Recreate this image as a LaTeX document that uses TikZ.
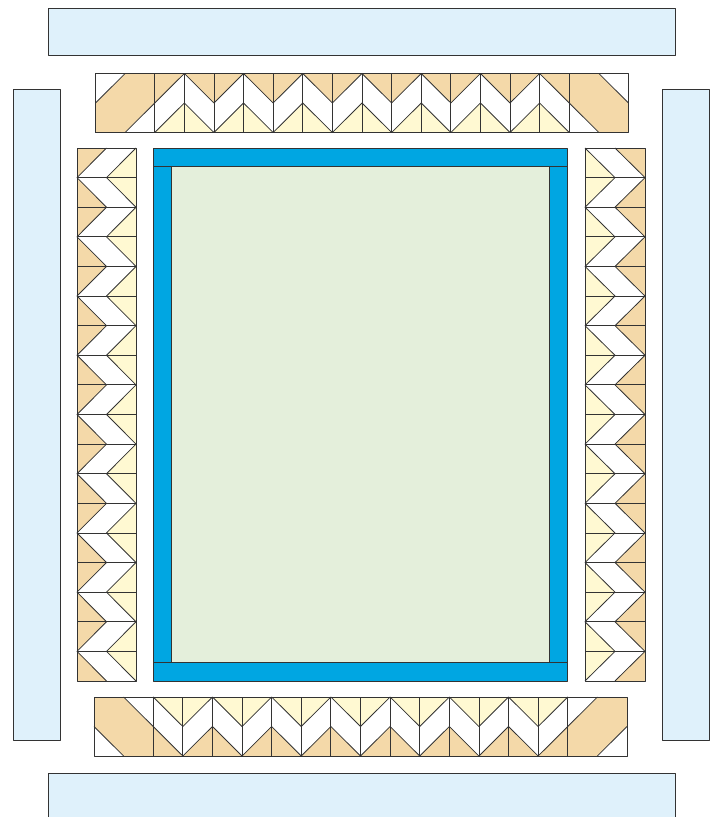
\documentclass[tikz,border=0pt]{standalone}
\usepackage{tikz}
\definecolor{lblue}{HTML}{DFF1FB}
\definecolor{tanc}{HTML}{F4D9A9}
\definecolor{yelc}{HTML}{FFF9D2}
\definecolor{bluec}{HTML}{00A6E2}
\definecolor{greenc}{HTML}{E4EFDB}
\definecolor{linec}{HTML}{333333}
\tikzset{
  ln/.style={draw=linec, line width=0.8pt, line join=round},
  panel/.style={ln, fill=lblue},
  band/.style={ln, fill=bluec},
}
\newcommand{\chevpairs}[1]{%
  \foreach \i in {#1} {%
    \fill[tanc] (\i,0)--(\i+1,0)--(\i,1)--cycle;
    \fill[tanc] (\i+1,0)--(\i+2,0)--(\i+2,1)--cycle;
    \fill[yelc] (\i,2)--(\i+1,1)--(\i+2,2)--cycle;
    \draw[ln] (\i,1)--(\i+1,0)--(\i+2,1);
    \draw[ln] (\i,2)--(\i+1,1)--(\i+2,2);
    \draw[ln] (\i,0)--(\i,2);
    \draw[ln] (\i+1,0)--(\i+1,2);
  }%
}
\newcommand{\cornerL}[1]{%
  \fill[tanc] (#1,0) rectangle (#1+2,2);
  \fill[white] (#1,0)--(#1+1,0)--(#1,1)--cycle;
  \fill[white] (#1+1,2)--(#1+2,2)--(#1+2,1)--cycle;
  \draw[ln] (#1,1)--(#1+1,0);
  \draw[ln] (#1+1,2)--(#1+2,1);
  \draw[ln] (#1,0)--(#1,2);
}
\newcommand{\cornerR}[1]{%
  \fill[tanc] (#1,0) rectangle (#1+2,2);
  \fill[white] (#1+1,0)--(#1+2,0)--(#1+2,1)--cycle;
  \fill[white] (#1,1)--(#1,2)--(#1+1,2)--cycle;
  \draw[ln] (#1+1,0)--(#1+2,1);
  \draw[ln] (#1,1)--(#1+1,2);
  \draw[ln] (#1,0)--(#1,2);
}
\begin{document}
\begin{tikzpicture}[x=1pt,y=-1pt]
\useasboundingbox (0,0) rectangle (715,817);
\clip (0,0) rectangle (715,817);
% light blue outer panels
\draw[panel] (48,8) rectangle (675,55);
\draw[panel] (48,773) rectangle (675,830);
\draw[panel] (13,89) rectangle (60,740);
\draw[panel] (662,89) rectangle (709,740);
% centre
\fill[greenc] (171,166) rectangle (549,662);
\draw[band] (153,148) rectangle (567,166);
\draw[band] (153,662) rectangle (567,681);
\draw[band] (153,166) rectangle (171,662);
\draw[band] (549,166) rectangle (567,662);
% top border
\begin{scope}[shift={(95.5,73.5)}, x={(29.61pt,0pt)}, y={(0pt,-29.5pt)}]
  \cornerL{0}
  \chevpairs{2,4,...,14}
  \cornerR{16}
  \draw[ln] (0,0) rectangle (18,2);
\end{scope}
% bottom border
\begin{scope}[shift={(94,756)}, x={(29.61pt,0pt)}, y={(0pt,29.5pt)}]
  \cornerL{0}
  \chevpairs{2,4,...,14}
  \cornerR{16}
  \draw[ln] (0,0) rectangle (18,2);
\end{scope}
% left border
\begin{scope}[shift={(77,148)}, x={(0pt,-29.61pt)}, y={(29.5pt,0pt)}]
  \chevpairs{0,2,...,16}
  \draw[ln] (0,0) rectangle (18,2);
\end{scope}
% right border
\begin{scope}[shift={(645,148)}, x={(0pt,-29.61pt)}, y={(-30pt,0pt)}]
  \chevpairs{0,2,...,16}
  \draw[ln] (0,0) rectangle (18,2);
\end{scope}
\end{tikzpicture}
\end{document}
